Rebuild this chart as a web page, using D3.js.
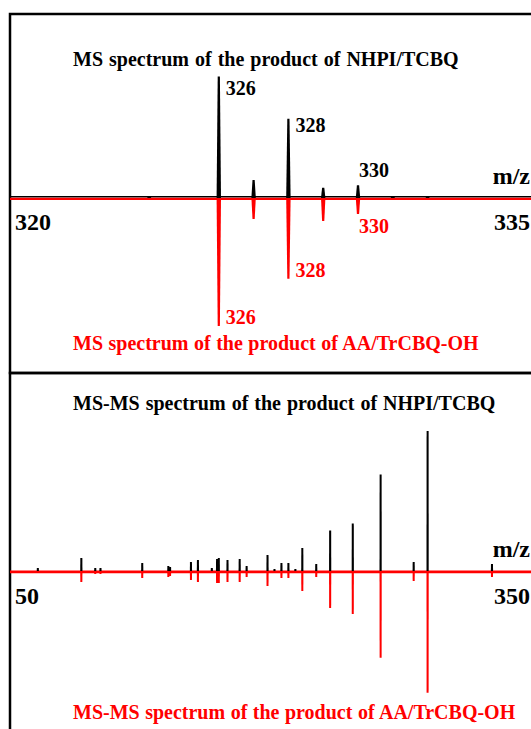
<!DOCTYPE html>
<html>
<head>
<meta charset="utf-8">
<script src="https://cdn.jsdelivr.net/npm/d3@7"></script>
<style>
  body { margin: 0; background: #fff; }
  text { font-family: "Liberation Serif", "Times New Roman", serif; font-weight: bold; }
</style>
</head>
<body>
<div id="chart"></div>
<script>
// MS spectra (top panel), m/z 320-335, relative intensity
const msMz = [324, 326, 327, 328, 329, 330, 331, 332];
const msNhpi = [1.2, 95, 14, 62, 8, 10, 1.6, 1];      // black, upward
const msAa = [0, 100, 16.4, 63, 18, 12.5, 0, 0];     // red, downward
const msLabelled = [326, 328, 330];
const msTicks = [320, 335];

// MS-MS spectra (bottom panel), m/z 50-350
const msmsMz = [66, 91, 99, 102, 126, 141, 142, 154, 158, 166, 169, 170, 175, 182, 186,
                198, 202, 206, 210, 214, 218, 226, 234, 247, 263, 282, 290, 327];
const msmsNhpi = [2.1, 9.3, 2.1, 2.1, 5.7, 3.6, 2.9, 6.4, 7.9, 2.1, 8.6, 9.3, 7.9, 8.6, 3.6,
                  11.4, 1.4, 5.7, 5.7, 1.4, 16.4, 5, 29, 34, 69, 6.4, 100, 5];
const msmsAa = [1.4, 7.9, 2.1, 2.1, 5, 4.3, 3.6, 6.4, 7.9, 1.4, 8.6, 8.6, 7.9, 7.9, 4.3,
                10.7, 0.7, 5, 5, 0.7, 14.3, 4.3, 26.4, 30.7, 62, 7.1, 87, 4.3];
const msmsTicks = [50, 350];

const titles = {
    msTop: 'MS spectrum of the product of NHPI/TCBQ',
    msBottom: 'MS spectrum of the product of AA/TrCBQ-OH',
    msmsTop: 'MS-MS spectrum of the product of NHPI/TCBQ',
    msmsBottom: 'MS-MS spectrum of the product of AA/TrCBQ-OH'
};

const width = 531, height = 729;
const svg = d3.select('#chart').append('svg')
    .attr('width', width)
    .attr('height', height);

// panel frames
svg.append('rect').attr('x', 10).attr('y', 14).attr('width', 540).attr('height', 359)
    .style('fill', 'none').style('stroke', '#000').style('stroke-width', 2.5);
svg.append('rect').attr('x', 10).attr('y', 373).attr('width', 540).attr('height', 380)
    .style('fill', 'none').style('stroke', '#000').style('stroke-width', 2.5);

function panel(opt) {
    const x = d3.scaleLinear().domain(opt.domain).range([10, 532]);
    const h = d3.scaleLinear().domain([0, 100]).range([0, opt.maxH]);
    const g = svg.append('g');
    const axisY = opt.axisY;

    // baseline: thin black just above the red one (only shows in the MS panel)
    if (opt.blackBase) {
        g.append('line').attr('x1', 10).attr('x2', width).attr('y1', axisY - 1.2).attr('y2', axisY - 1.2)
            .style('stroke', '#000').style('stroke-width', 1.5);
    }
    g.append('line').attr('x1', 10).attr('x2', width).attr('y1', axisY + 0.8).attr('y2', axisY + 0.8)
        .style('stroke', 'red').style('stroke-width', opt.blackBase ? 2.2 : 2.8);

    const peakPath = (mz, v, dir) => {
        const px = x(mz), tip = axisY + dir * h(v);
        const wt = opt.tipW, wb = opt.baseW;
        return `M${px - wb},${axisY}L${px - wt},${tip}L${px + wt},${tip}L${px + wb},${axisY}Z`;
    };

    g.selectAll('.up').data(opt.mz.map((m, i) => ({mz: m, v: opt.up[i]})).filter(d => d.v > 0))
        .join('path').attr('class', 'up')
        .attr('d', d => peakPath(d.mz, d.v, -1))
        .style('fill', '#000');
    g.selectAll('.down').data(opt.mz.map((m, i) => ({mz: m, v: opt.down[i]})).filter(d => d.v > 0))
        .join('path').attr('class', 'down')
        .attr('d', d => peakPath(d.mz, d.v, 1))
        .style('fill', 'red');

    // end tick labels and m/z
    g.append('text').attr('x', 15).attr('y', opt.tickY).style('font-size', '24px').text(opt.domain[0]);
    g.append('text').attr('x', 530).attr('y', opt.tickY).attr('text-anchor', 'end')
        .style('font-size', '24px').text(opt.domain[1]);
    g.append('text').attr('x', 530).attr('y', axisY - 14).attr('text-anchor', 'end')
        .style('font-size', '24px').text('m/z');

    g.append('text').attr('x', 73).attr('y', opt.titleUpY).style('font-size', '20px')
        .style('word-spacing', '1px').style('fill', '#000').text(opt.titleUp);
    g.append('text').attr('x', 73).attr('y', opt.titleDownY).style('font-size', '20px')
        .style('word-spacing', '0.5px').style('fill', 'red').text(opt.titleDown);

    return {x, h, g, axisY};
}

const ms = panel({
    domain: msTicks, axisY: 198, maxH: 128, tickY: 230, blackBase: true,
    mz: msMz, up: msNhpi, down: msAa, tipW: 1.1, baseW: 2.2,
    titleUp: titles.msTop, titleUpY: 66, titleDown: titles.msBottom, titleDownY: 350
});
const msms = panel({
    domain: msmsTicks, axisY: 571, maxH: 140, tickY: 604, blackBase: false,
    mz: msmsMz, up: msmsNhpi, down: msmsAa, tipW: 1, baseW: 1.1,
    titleUp: titles.msmsTop, titleUpY: 410, titleDown: titles.msmsBottom, titleDownY: 719
});

// peak labels in the MS panel
msLabelled.forEach(m => {
    const i = msMz.indexOf(m);
    const px = ms.x(m);
    const big = msNhpi[i] > 40;
    const topY = ms.axisY - ms.h(msNhpi[i]);
    const botY = ms.axisY + ms.h(msAa[i]);
    ms.g.append('text')
        .attr('x', big ? px + 7 : px + 1)
        .attr('y', big ? topY + (m === 326 ? 19 : 13) : topY - 8)
        .style('font-size', '20px').style('fill', '#000')
        .style('font-weight', big ? 'bold' : '600')
        .text(m);
    ms.g.append('text')
        .attr('x', big ? px + 7 : px + 1)
        .attr('y', big ? botY - 2 : botY + 19)
        .style('font-size', '20px').style('fill', 'red')
        .text(m);
});
</script>
</body>
</html>
